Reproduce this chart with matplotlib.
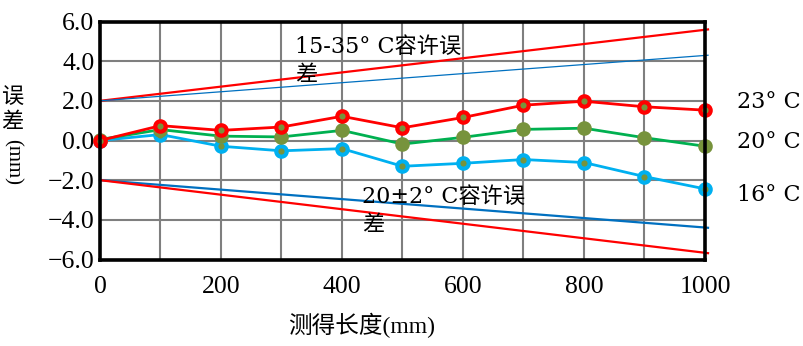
import matplotlib
matplotlib.use("Agg")
import matplotlib.pyplot as plt
from matplotlib.ticker import MultipleLocator, FixedLocator, FixedFormatter

# ---- data ----
lengths = [0, 100, 200, 300, 400, 500, 600, 700, 800, 900, 1000]
err_23 = [0.0, 0.75, 0.51, 0.68, 1.22, 0.64, 1.16, 1.78, 1.98, 1.70, 1.53]
err_20 = [0.05, 0.55, 0.22, 0.18, 0.51, -0.18, 0.16, 0.56, 0.62, 0.14, -0.29]
err_16 = [0.0, 0.30, -0.29, -0.52, -0.41, -1.30, -1.15, -0.96, -1.11, -1.82, -2.44]

tol_x = [0, 1005]
tol_wide_upper = [2.0, 5.6]
tol_wide_lower = [-2.0, -5.68]
tol_narrow_upper = [2.0, 4.3]
tol_narrow_lower = [-2.0, -4.4]

x_ticks = [0, 200, 400, 600, 800, 1000]
y_ticks = [-6, -4, -2, 0, 2, 4, 6]
y_tick_labels = ["\u22126.0", "\u22124.0", "\u22122.0", "0.0", "2.0", "4.0", "6.0"]

series_labels = ["23° C", "20° C", "16° C"]
wide_label = "15-35° C容许误\n差"
narrow_label = "20±2° C容许误\n差"
x_label = "测得长度(mm)"

mixed = ["Liberation Serif", "Noto Sans CJK SC"]
mixed2 = ["DejaVu Serif", "Noto Sans CJK SC"]

fig = plt.figure(figsize=(8.04, 3.46), dpi=100)
ax = fig.add_axes([100/804, 1 - 259.5/346, 605/804, 238/346])

ax.set_xlim(0, 1000)
ax.set_ylim(-6, 6)

# grid
ax.xaxis.set_major_locator(FixedLocator(x_ticks))
ax.xaxis.set_minor_locator(MultipleLocator(100))
ax.yaxis.set_major_locator(FixedLocator(y_ticks))
ax.yaxis.set_major_formatter(FixedFormatter(y_tick_labels))
ax.grid(True, which="both", color="#7f7f7f", linewidth=1.5, zorder=0)
ax.set_axisbelow(True)
ax.tick_params(which="both", length=0)
ax.tick_params(axis="x", pad=12)
ax.tick_params(axis="y", pad=4)
for lab in ax.get_xticklabels() + ax.get_yticklabels():
    lab.set_fontfamily("Liberation Serif")
    lab.set_fontsize(18.5)
for sp in ax.spines.values():
    sp.set_linewidth(2.6)
    sp.set_color("black")
    sp.set_zorder(5)

# tolerance lines
ax.plot(tol_x, tol_wide_upper, color="#ff0000", lw=1.6, zorder=2, clip_on=False)
ax.plot(tol_x, tol_narrow_upper, color="#0070c0", lw=0.9, zorder=2, clip_on=False)
ax.plot(tol_x, tol_narrow_lower, color="#0070c0", lw=1.6, zorder=2, clip_on=False)
ax.plot(tol_x, tol_wide_lower, color="#ff0000", lw=1.6, zorder=2, clip_on=False)

# measured series
mk = dict(marker="o", markersize=7.5, markeredgewidth=3.0, markerfacecolor="#77933c", clip_on=False)
ax.plot(lengths, err_16, color="#00b0f0", lw=2.0, markeredgecolor="#00b0f0", zorder=3, **mk)
ax.plot(lengths, err_20, color="#00b050", lw=2.0, markeredgecolor="#77933c", zorder=3, **mk)
ax.plot(lengths, err_23, color="#ff0000", lw=2.0, markeredgecolor="#ff0000", zorder=4, **mk)

# annotations
ax.text(323, 4.0, wide_label, family=mixed2, fontsize=16, ha="left", va="center",
        linespacing=1.35, zorder=6)
ax.text(433, -3.56, narrow_label, family=mixed2, fontsize=16, ha="left", va="center",
        linespacing=1.35, zorder=6)

for lab, yv in zip(series_labels, [1.92, -0.1, -2.73]):
    ax.text(1053, yv, lab, family=mixed2, fontsize=16, ha="left", va="center", clip_on=False)

# axis labels
fig.text(362/804, 1 - 325/346, x_label, family=mixed, fontsize=17, ha="center", va="center")
fig.text(12/804, 1 - 98/346, "误", family=mixed, fontsize=16, ha="center", va="center")
fig.text(12/804, 1 - 123/346, "差", family=mixed, fontsize=16, ha="center", va="center")
fig.text(12/804, 1 - 162/346, "(mm)", family="Liberation Serif", fontsize=15, rotation=-90,
         ha="center", va="center")

fig.savefig("out.png", dpi=100)
